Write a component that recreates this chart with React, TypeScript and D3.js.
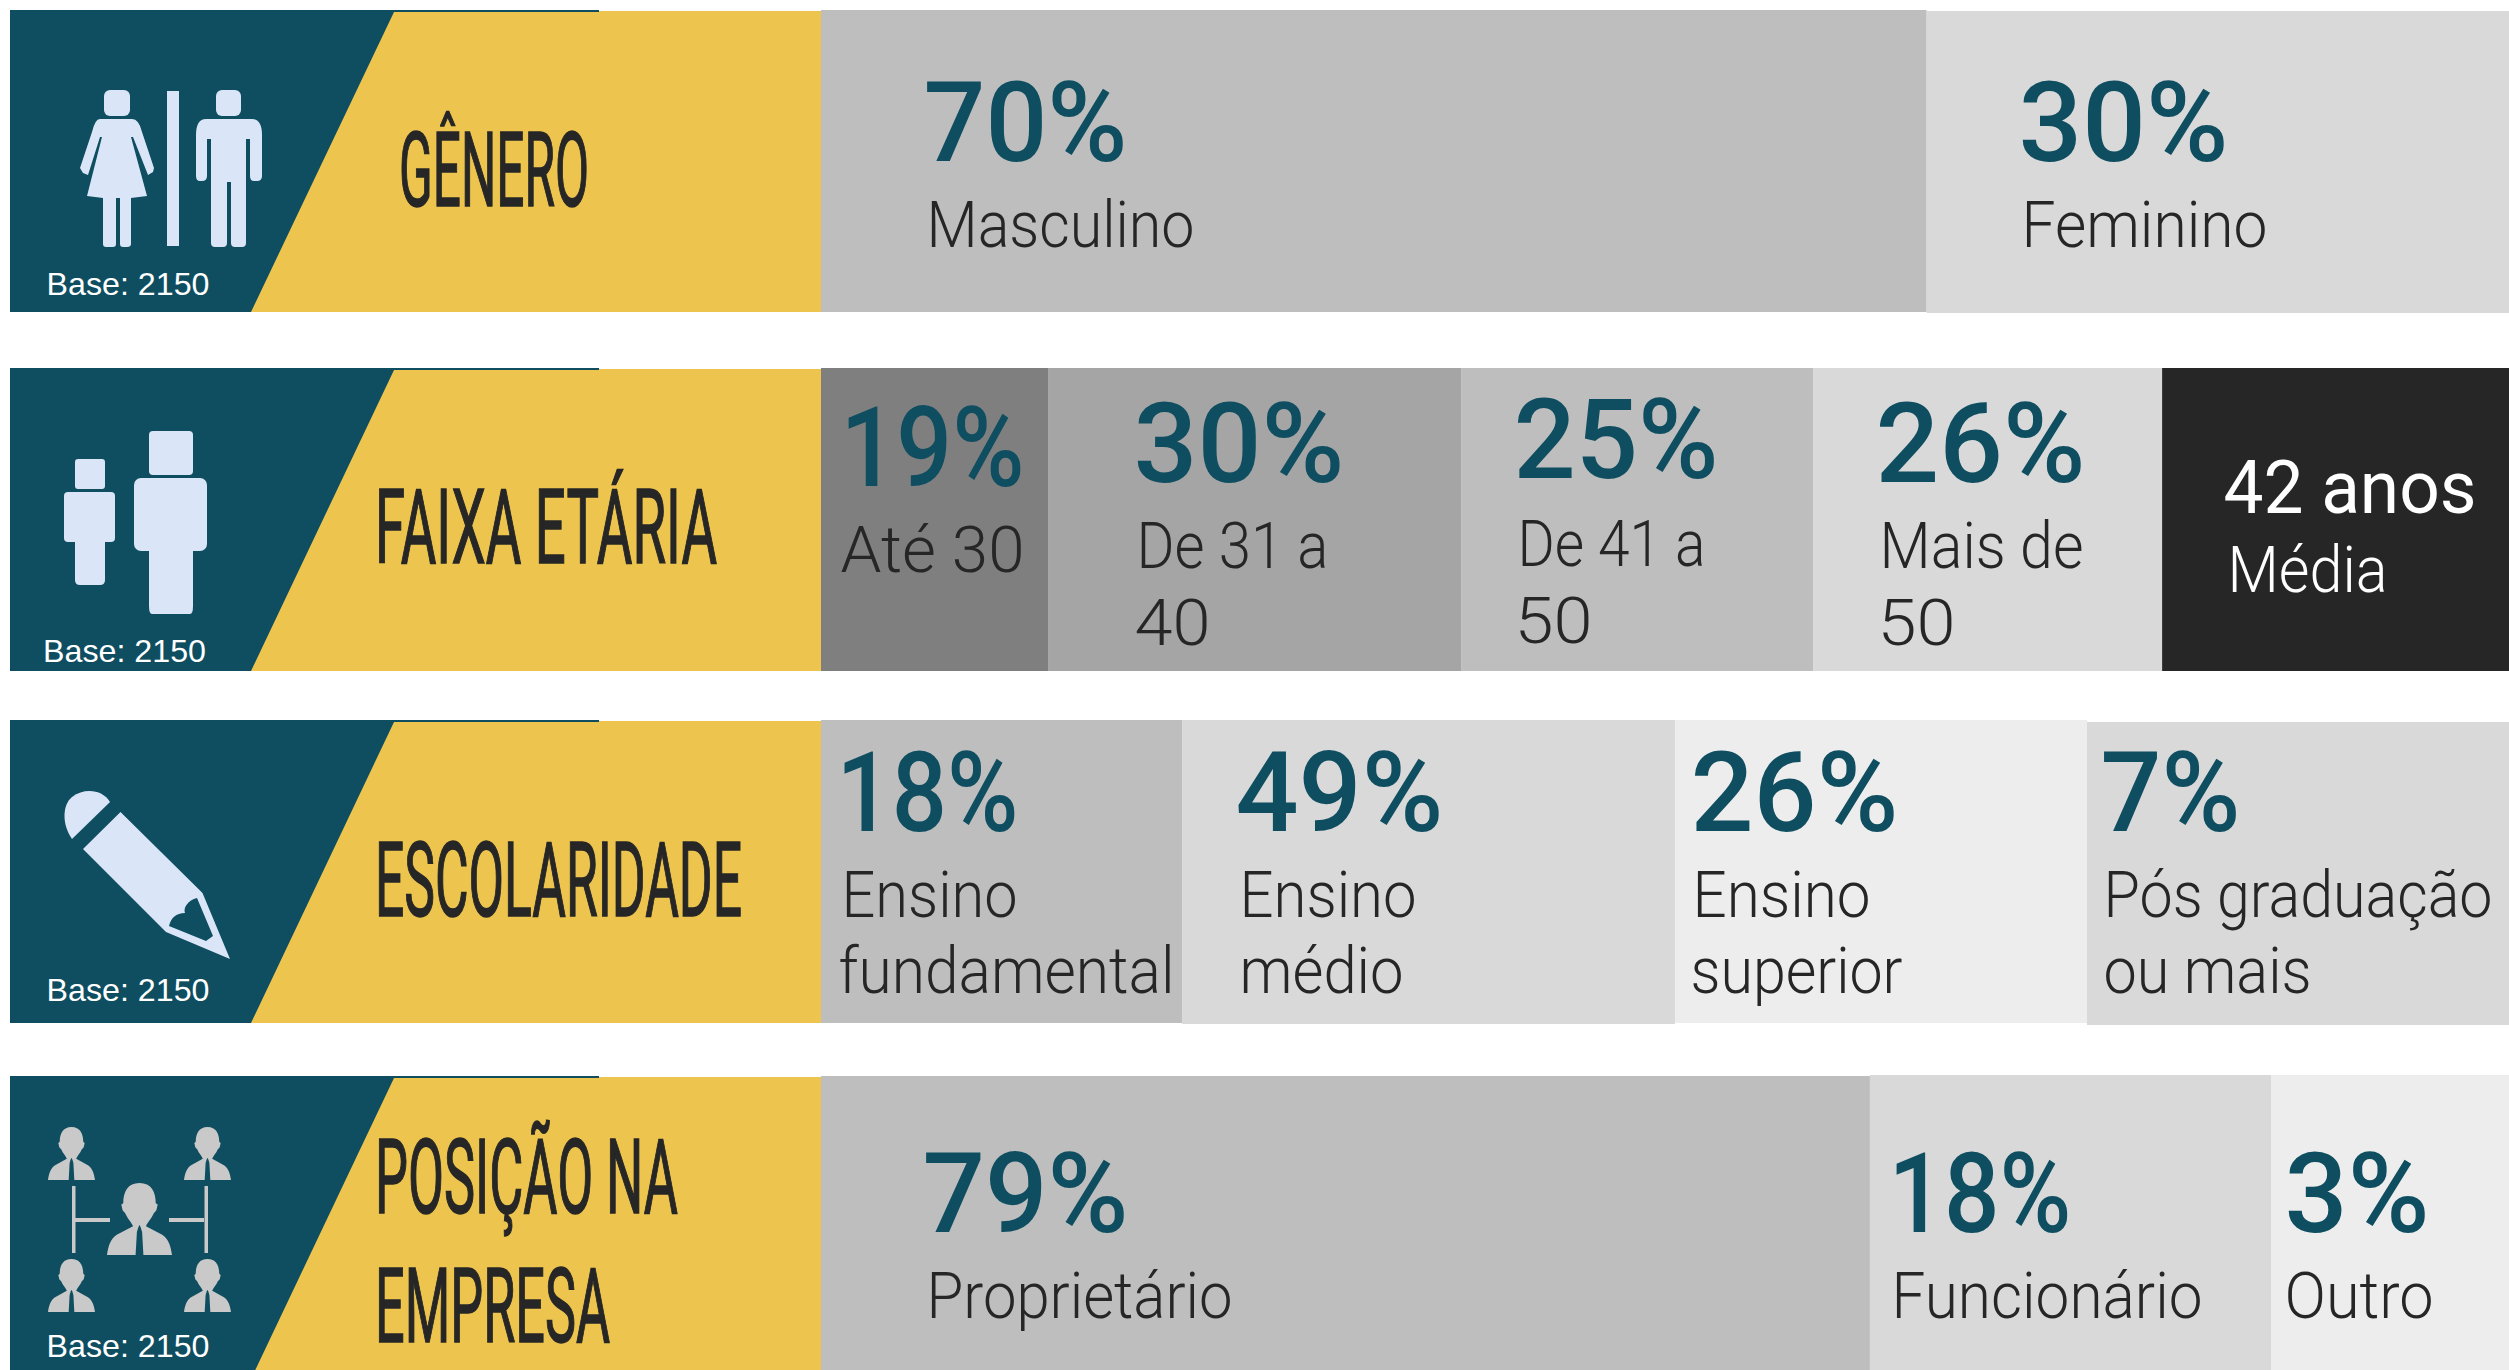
import React from "react";
import * as d3 from "d3";

// ---------- data ----------
const baseCount = 2150;
const rowTitles = [["GÊNERO"], ["FAIXA ETÁRIA"], ["ESCOLARIDADE"], ["POSIÇÃO NA", "EMPRESA"]];

const genderValues = ["70%", "30%"];
const genderLabels = [["Masculino"], ["Feminino"]];
const genderShares = [65.5, 34.5];

const ageValues = ["19%", "30%", "25%", "26%", "42 anos"];
const ageLabels = [["Até 30"], ["De 31 a", "40"], ["De 41 a", "50"], ["Mais de", "50"], ["Média"]];
const ageShares = [13.45, 24.47, 20.85, 20.68, 20.55];

const schoolValues = ["18%", "49%", "26%", "7%"];
const schoolLabels = [["Ensino", "fundamental"], ["Ensino", "médio"], ["Ensino", "superior"], ["Pós graduação", "ou mais"]];
const schoolShares = [21.39, 29.2, 24.41, 25.0];

const roleValues = ["79%", "18%", "3%"];
const roleLabels = [["Proprietário"], ["Funcionário"], ["Outro"]];
const roleShares = [62.14, 23.76, 14.1];

// ---------- layout and style ----------
const TEAL = "#0E4E60";
const YELLOW = "#ECC44E";
const ICON = "#DAE6F7";
const INK = "#262626";
const PCT_FONT = "Roboto, sans-serif";
const BEARING = 3.5; // glyph side bearing compensation for the fitted texts

const rowBoxes = [
  { top: 10, bottom: 312 },
  { top: 368, bottom: 671 },
  { top: 720, bottom: 1023 },
  { top: 1076, bottom: 1379 },
];
const baseLayout = [
  { x: 46.5, y: 295 },
  { x: 43, y: 662 },
  { x: 46.5, y: 1001 },
  { x: 46.5, y: 1357 },
];
const titleLayout = [
  [{ x: 402, w: 185, y: 206 }],
  [{ x: 378, w: 337, y: 563 }],
  [{ x: 378, w: 362, y: 916 }],
  [{ x: 378, w: 298, y: 1213 }, { x: 378, w: 230, y: 1342 }],
];
const fills = [
  ["#BEBEBE", "#D9D9D9"],
  ["#7F7F7F", "#A5A5A5", "#BEBEBE", "#D9D9D9", "#262626"],
  ["#BEBEBE", "#D9D9D9", "#EDEDED", "#D9D9D9"],
  ["#BEBEBE", "#D9D9D9", "#EDEDED"],
];
// small top/bottom offsets of individual blocks in the picture
const bandNudge = [
  [[0, 0], [1, 1]],
  [[0, 0], [0, 0], [0, 0], [0, 0], [0, 0]],
  [[0, 0], [0, 1], [0, 0], [2, 2]],
  [[0, 0], [-1, 0], [-1, 0]],
];
type Cell = { x: number; w: number; y: number };
const pctLayout: Cell[][] = [
  [{ x: 927, w: 197, y: 161 }, { x: 2022, w: 203, y: 161 }],
  [
    { x: 844, w: 177, y: 486 },
    { x: 1137, w: 204, y: 482 },
    { x: 1517, w: 198, y: 478 },
    { x: 1879, w: 203, y: 482 },
    { x: 2227, w: 246, y: 513 },
  ],
  [
    { x: 840, w: 175, y: 831 },
    { x: 1239, w: 201, y: 831 },
    { x: 1694, w: 201, y: 831 },
    { x: 2104, w: 133, y: 831 },
  ],
  [{ x: 926, w: 199, y: 1232 }, { x: 1892, w: 176, y: 1232 }, { x: 2288, w: 138, y: 1232 }],
];
const labelLayout: Cell[][][] = [
  [[{ x: 930, w: 261, y: 247 }], [{ x: 2025, w: 239, y: 247 }]],
  [
    [{ x: 844, w: 177, y: 572 }],
    [{ x: 1140, w: 185, y: 568 }, { x: 1138, w: 69, y: 645 }],
    [{ x: 1521, w: 181, y: 566 }, { x: 1518, w: 71, y: 643 }],
    [{ x: 1883, w: 197, y: 568 }, { x: 1881, w: 71, y: 645 }],
    [{ x: 2231, w: 153, y: 592 }],
  ],
  [
    [{ x: 845, w: 169, y: 917 }, { x: 842, w: 329, y: 993 }],
    [{ x: 1243, w: 170, y: 917 }, { x: 1243, w: 157, y: 993 }],
    [{ x: 1696, w: 171, y: 917 }, { x: 1694, w: 205, y: 993 }],
    [{ x: 2107, w: 382, y: 917 }, { x: 2107, w: 201, y: 993 }],
  ],
  [[{ x: 930, w: 299, y: 1318 }], [{ x: 1895, w: 304, y: 1318 }], [{ x: 2288, w: 142, y: 1318 }]],
];

const rows = [
  { values: genderValues, labels: genderLabels, shares: genderShares },
  { values: ageValues, labels: ageLabels, shares: ageShares },
  { values: schoolValues, labels: schoolLabels, shares: schoolShares },
  { values: roleValues, labels: roleLabels, shares: roleShares },
];

const xBand = d3.scaleLinear().domain([0, 100]).range([821, 2509]);

const PERSON =
  "M50,0 C68,0 75,12 75,28 L78,30 L76,38 L72,42 C68,50 62,55 60,60 L85,72 C95,78 98,88 100,100 L56,100 L54,68 L52,62 L50,58 L48,62 L46,68 L44,100 L0,100 C2,88 5,78 15,72 L40,60 C38,55 32,50 28,42 L24,38 L22,30 L25,28 C25,12 32,0 50,0Z";

function Person({ x, y, w, h }: { x: number; y: number; w: number; h: number }) {
  return <path d={PERSON} transform={`translate(${x},${y}) scale(${w / 100},${h / 100})`} fill="#C9C9C9" />;
}

function Icons() {
  return (
    <g>
      {/* gender */}
      <g fill={ICON}>
        <rect x={104} y={90} width={26} height={26} rx={6} />
        <path d="M100,119 L132,119 Q139,119 142,132 L154,168 L153,172 L148,175 L133,137 L131,137 L147,196 L131,198 L131,244 Q131,247 127,247 L123,247 Q120,247 120,244 L120,198 L116,198 L116,244 Q116,247 113,247 L106,247 Q103,247 103,244 L103,198 L87,196 L102,137 L100,137 L88,175 L83,173 L80,168 L92,132 Q95,119 100,119Z" />
        <rect x={167} y={91} width={12} height={155} />
        <rect x={216} y={90} width={25} height={26} rx={6} />
        <path d="M206,119 L252,119 Q262,119 262,135 L262,176 Q262,181 257,181 L254,181 Q250,181 250,176 L250,139 L246,139 L246,243 Q246,247 242,247 L235,247 Q231,247 231,243 L231,182 L227,182 L227,243 Q227,247 223,247 L215,247 Q211,247 211,243 L211,139 L207,139 L207,176 Q207,181 202,181 L200,181 Q196,181 196,176 L196,135 Q196,119 206,119Z" />
      </g>
      {/* age */}
      <g fill={ICON}>
        <rect x={75} y={459} width={30} height={30} rx={3} />
        <rect x={64} y={492} width={51} height={50} rx={4} />
        <path d="M75,540 L105,540 L105,580 Q105,585 100,585 L80,585 Q75,585 75,580Z" />
        <rect x={149} y={431} width={44} height={44} rx={4} />
        <rect x={134} y={478} width={73} height={73} rx={7} />
        <path d="M149,548 L193,548 L193,606 Q193,614 190,614 L152,614 Q149,614 149,606Z" />
      </g>
      {/* schooling */}
      <g fill={ICON}>
        <path d="M110,802 L72,839 C62,825 62,805 72,797 C85,787 103,790 110,802Z" />
        <path
          fillRule="evenodd"
          d="M120.5,812 L202.5,893 L230,959 L166,932 L83,849Z M197,898 L213,936 L206,941 L169,926 C171,918 176,913 185,913 C183,908 188,900 197,898Z"
        />
      </g>
      {/* position */}
      <Person x={48} y={1127} w={47} h={53} />
      <Person x={184} y={1127} w={47} h={53} />
      <Person x={48} y={1259} w={47} h={53} />
      <Person x={184} y={1259} w={47} h={53} />
      <Person x={107} y={1183} w={65} h={72} />
      <g fill="#C9C9C9">
        <rect x={72} y={1186} width={3.5} height={67} />
        <rect x={75} y={1218} width={35} height={4} />
        <rect x={204.5} y={1186} width={3.5} height={67} />
        <rect x={169} y={1218} width={35} height={4} />
      </g>
    </g>
  );
}

export default function App() {
  return (
    <svg
      width={2509}
      height={1370}
      viewBox="0 0 2509 1370"
      style={{ position: "absolute", left: 0, top: 0, display: "block", background: "#fff" }}
    >
      {rows.map((row, r) => {
        const box = rowBoxes[r];
        const ends = Array.from(d3.cumsum(row.shares));
        const starts = [0, ...ends.slice(0, -1)];
        const slope = (394 - 251) / (box.bottom - box.top);
        return (
          <g key={r}>
            <rect x={10} y={box.top} width={589} height={box.bottom - box.top} fill={TEAL} />
            <polygon
              points={`${394},${box.top + 2} 599,${box.top + 2} 599,${box.top + 1} 821,${box.top + 1} 821,${box.bottom} ${394 - slope * (box.bottom - box.top)},${box.bottom}`}
              fill={YELLOW}
            />
            {row.shares.map((_, i) => (
              <rect
                key={i}
                x={xBand(starts[i])}
                y={box.top + bandNudge[r][i][0]}
                width={xBand(ends[i]) - xBand(starts[i])}
                height={box.bottom - box.top - bandNudge[r][i][0] + bandNudge[r][i][1]}
                fill={fills[r][i]}
              />
            ))}
            <text
              x={baseLayout[r].x}
              y={baseLayout[r].y}
              textLength={163}
              lengthAdjust="spacingAndGlyphs"
              fontFamily="'Liberation Sans', Arial, sans-serif"
              fontSize={32}
              fill="#fff"
            >
              {`Base: ${baseCount}`}
            </text>
            {rowTitles[r].map((line, l) => (
              <text
                key={l}
                x={titleLayout[r][l].x - 3}
                y={titleLayout[r][l].y}
                textLength={titleLayout[r][l].w + 5}
                lengthAdjust="spacingAndGlyphs"
                fontFamily="'Liberation Sans Narrow', Roboto, sans-serif"
                fontWeight={400}
                fontSize={103}
                fill={INK}
                stroke={INK}
                strokeWidth={1.5}
              >
                {line}
              </text>
            ))}
            {row.values.map((v, i) => {
              const isAverage = r === 1 && i === 4;
              return (
                <g key={i}>
                  <text
                    x={pctLayout[r][i].x - BEARING}
                    y={pctLayout[r][i].y}
                    textLength={pctLayout[r][i].w + 2 * BEARING}
                    lengthAdjust="spacingAndGlyphs"
                    fontFamily={PCT_FONT}
                    fontSize={isAverage ? 75 : 111}
                    fontWeight={isAverage ? 400 : 500}
                    fill={isAverage ? "#fff" : TEAL}
                  >
                    {v}
                  </text>
                  {row.labels[i].map((line, l) => (
                    <text
                      key={l}
                      x={labelLayout[r][i][l].x - BEARING}
                      y={labelLayout[r][i][l].y}
                      textLength={labelLayout[r][i][l].w + 2 * BEARING}
                      lengthAdjust="spacingAndGlyphs"
                      fontFamily={PCT_FONT}
                      fontSize={64}
                      fontWeight={300}
                      fill={isAverage ? "#fff" : INK}
                    >
                      {line}
                    </text>
                  ))}
                </g>
              );
            })}
          </g>
        );
      })}
      <Icons />
    </svg>
  );
}
